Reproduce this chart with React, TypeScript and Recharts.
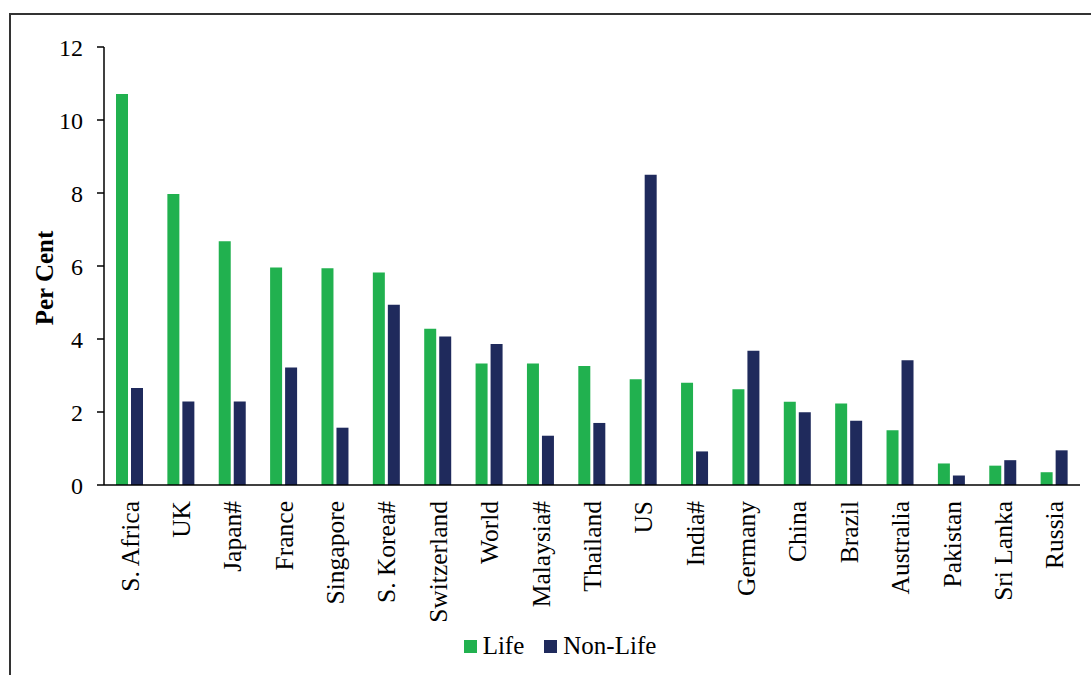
import { Bar, BarChart, Legend, XAxis, YAxis } from 'recharts'

// Insurance penetration by country, per cent of GDP
const categories = [
  'S. Africa', 'UK', 'Japan#', 'France', 'Singapore', 'S. Korea#', 'Switzerland', 'World', 'Malaysia#',
  'Thailand', 'US', 'India#', 'Germany', 'China', 'Brazil', 'Australia', 'Pakistan', 'Sri Lanka', 'Russia',
]
const lifeValues = [10.71, 7.97, 6.68, 5.96, 5.94, 5.82, 4.28, 3.33, 3.33, 3.26, 2.9, 2.8, 2.62, 2.28, 2.23, 1.5, 0.59, 0.53, 0.35]
const nonLifeValues = [2.66, 2.29, 2.29, 3.22, 1.57, 4.94, 4.07, 3.86, 1.35, 1.7, 8.5, 0.92, 3.68, 1.99, 1.76, 3.42, 0.26, 0.68, 0.95]
const yTicks = [0, 2, 4, 6, 8, 10, 12]

const LIFE = '#21b14f'
const NON_LIFE = '#1f2a5c'
const FONT = '"Liberation Serif", "Times New Roman", serif'

const data = categories.map((name, i) => ({ name, life: lifeValues[i], nonLife: nonLifeValues[i] }))
// tick marks sit on the category boundaries, not the centres
const edgeTicks = categories.map((_, i) => i).concat(categories.length)

function CategoryTick({ x, y, payload }: any) {
  return (
    <g transform={`translate(${x},${y})`}>
      <text x={0} y={0} dy="0.35em" textAnchor="end" transform="rotate(-90)" fill="#000" fontSize={25.5} fontFamily={FONT}>
        {payload.value}
      </text>
    </g>
  )
}

function AxisTitle({ viewBox }: any) {
  const cy = viewBox.y + viewBox.height / 2 + 12
  return (
    <text
      x={44}
      y={cy}
      dy="0.35em"
      textAnchor="middle"
      transform={`rotate(-90, 44, ${cy})`}
      fill="#000"
      fontSize={25}
      fontWeight="bold"
      fontFamily={FONT}
    >
      Per Cent
    </text>
  )
}

function LegendContent() {
  const items = [
    { label: 'Life', color: LIFE },
    { label: 'Non-Life', color: NON_LIFE },
  ]
  return (
    <div
      style={{ display: 'flex', justifyContent: 'center', gap: 20, paddingLeft: 36, fontFamily: FONT, fontSize: 25, color: '#000' }}
    >
      {items.map((item) => (
        <div key={item.label} style={{ display: 'flex', alignItems: 'center', gap: 6 }}>
          <span style={{ width: 13, height: 13, background: item.color, display: 'inline-block' }} />
          <span>{item.label}</span>
        </div>
      ))}
    </div>
  )
}

export default function App() {
  return (
    <div style={{ position: 'fixed', left: 0, top: 0, width: 1091, height: 675, overflow: 'hidden', background: '#fff' }}>
      <div
        style={{ position: 'absolute', left: 9, top: 13, width: 1100, height: 700, border: '2px solid #333', boxSizing: 'border-box' }}
      />
      <div style={{ position: 'absolute', left: 0, top: 0 }}>
        <BarChart
          width={1091}
          height={675}
          data={data}
          margin={{ top: 47, right: 11, bottom: 15, left: 4 }}
          barGap={3}
        >
          <YAxis
            domain={[0, 12]}
            ticks={yTicks}
            width={100}
            tickSize={7}
            tickMargin={14}
            axisLine={{ stroke: '#000', strokeWidth: 1.5 }}
            tickLine={{ stroke: '#000', strokeWidth: 1.5 }}
            tick={{ fill: '#000', fontSize: 24, fontFamily: FONT }}
            label={<AxisTitle />}
          />
          <XAxis
            xAxisId="edge"
            type="number"
            domain={[0, categories.length]}
            ticks={edgeTicks}
            allowDataOverflow
            height={0}
            tick={false}
            tickSize={8}
            axisLine={false}
            tickLine={{ stroke: '#000', strokeWidth: 1.5 }}
          />
          <XAxis
            xAxisId="cat"
            dataKey="name"
            interval={0}
            height={147}
            tickLine={false}
            tickSize={0}
            tickMargin={16}
            axisLine={{ stroke: '#000', strokeWidth: 1.5 }}
            tick={<CategoryTick />}
          />
          <Legend verticalAlign="bottom" content={<LegendContent />} />
          <Bar xAxisId="cat" dataKey="life" name="Life" fill={LIFE} barSize={12} isAnimationActive={false} />
          <Bar xAxisId="cat" dataKey="nonLife" name="Non-Life" fill={NON_LIFE} barSize={12} isAnimationActive={false} />
        </BarChart>
      </div>
    </div>
  )
}
